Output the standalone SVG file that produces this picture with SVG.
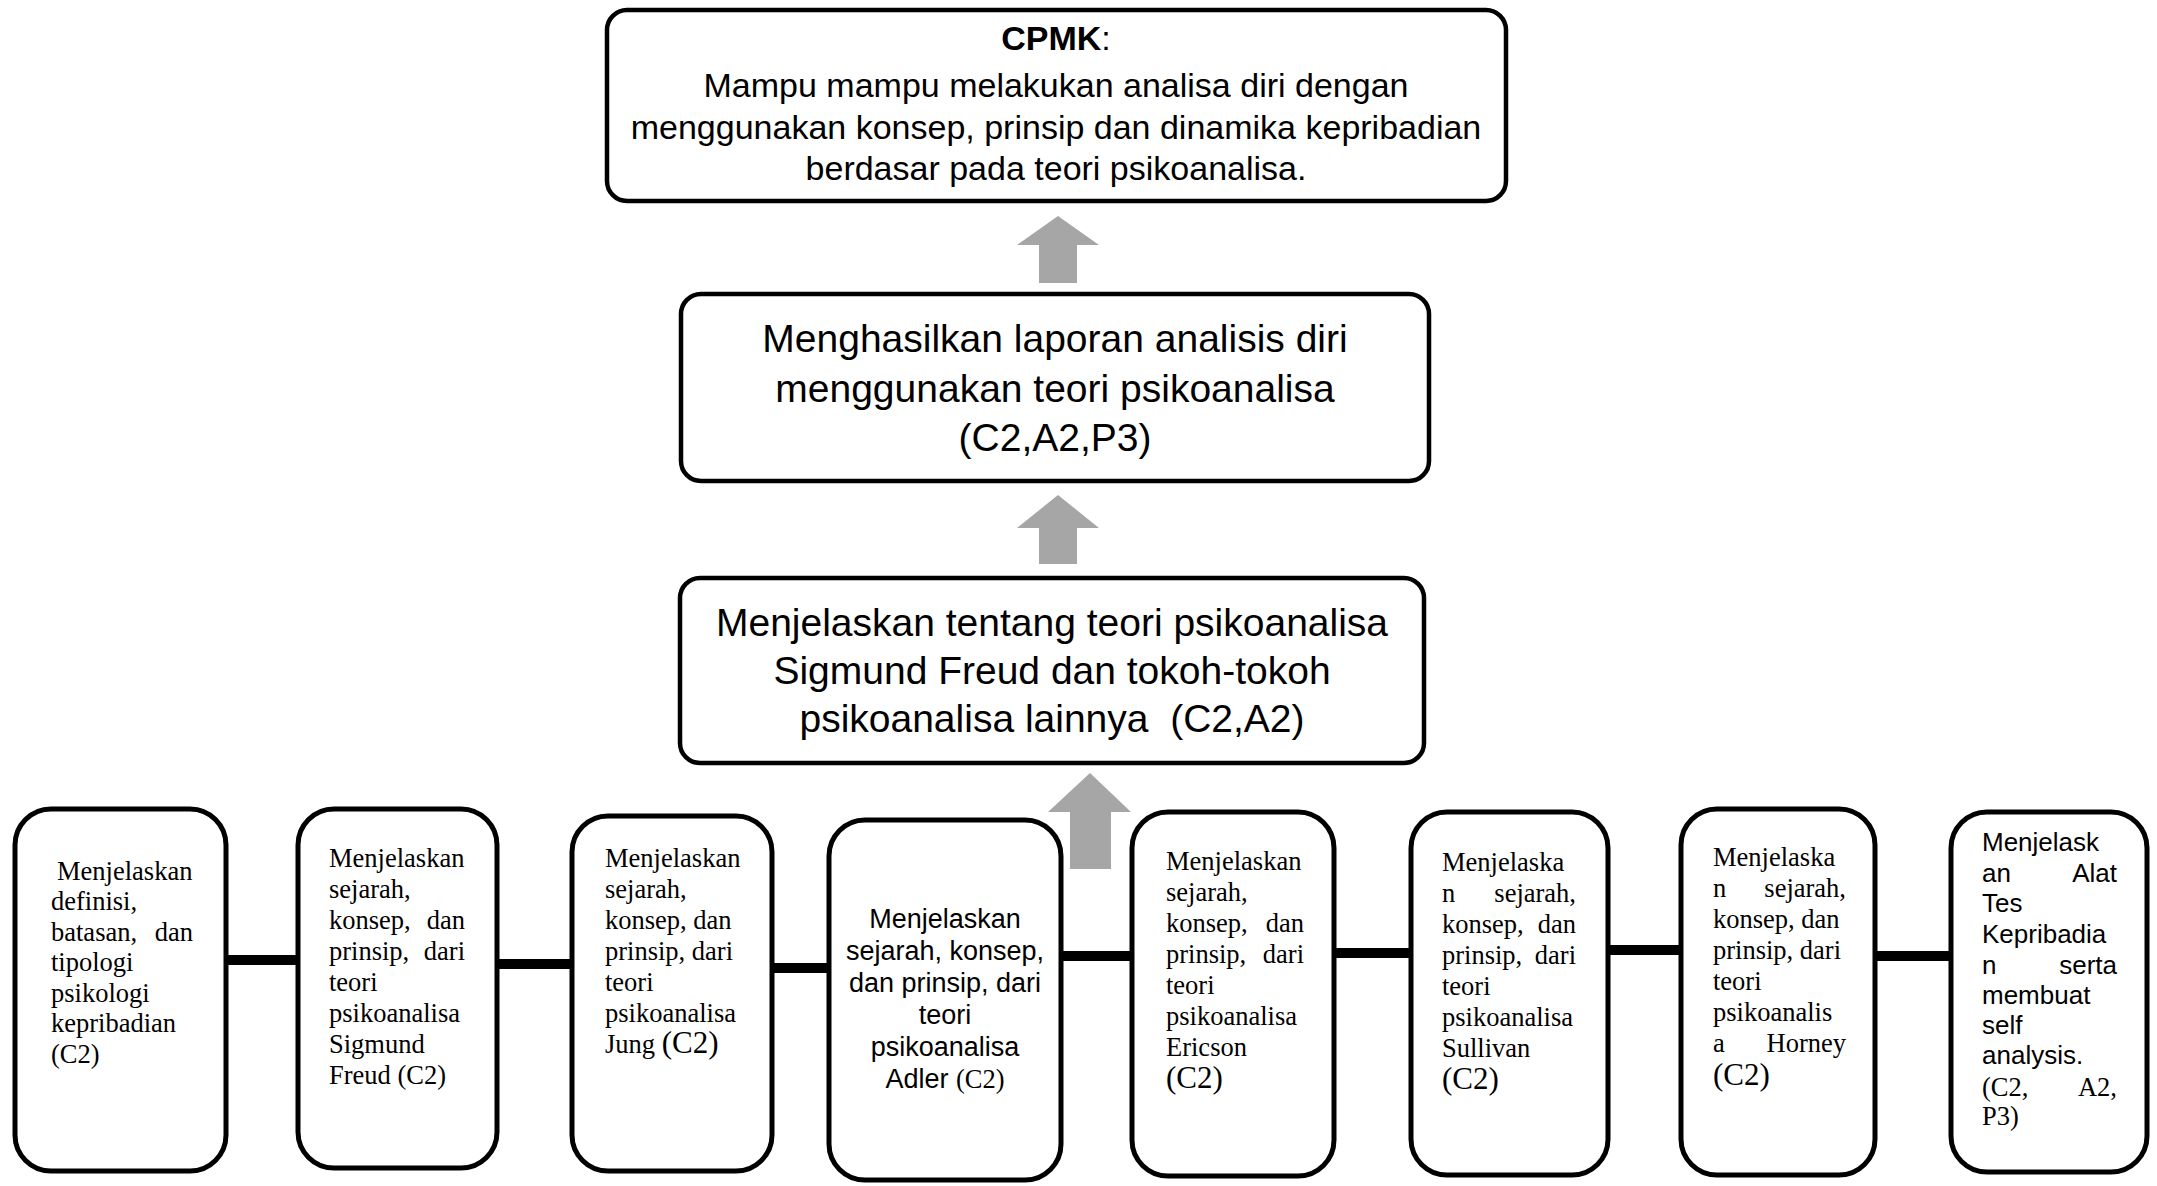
<svg xmlns="http://www.w3.org/2000/svg" width="2157" height="1186" viewBox="0 0 2157 1186">
<defs>
<style>
.top{fill:#fff;stroke:#000;stroke-width:4.5}
.bot{fill:#fff;stroke:#000;stroke-width:5}
.arrow{fill:#a6a6a6}
.conn{stroke:#000;stroke-width:10;fill:none}
.cal{font-family:"Liberation Sans",Arial,sans-serif;fill:#000}
.big{font-size:39px;text-anchor:middle}
.mid{font-size:34px;text-anchor:middle}
.tnr{font-family:"Liberation Serif","Times New Roman",serif;font-size:26.5px;fill:#000}
.tnrL{font-family:"Liberation Serif","Times New Roman",serif;font-size:31px;fill:#000}
.ari{font-family:"Liberation Sans",Arial,sans-serif;font-size:26px;fill:#000}
.e{text-anchor:end}
</style>
</defs>
<rect width="2157" height="1186" fill="#fff"/>

<g id="connectors">
<line class="conn" x1="226" y1="960" x2="298" y2="960"/>
<line class="conn" x1="497" y1="964" x2="572" y2="964"/>
<line class="conn" x1="772" y1="968" x2="829" y2="968"/>
<line class="conn" x1="1061" y1="956" x2="1132" y2="956"/>
<line class="conn" x1="1334" y1="953" x2="1411" y2="953"/>
<line class="conn" x1="1608" y1="950" x2="1681" y2="950"/>
<line class="conn" x1="1875" y1="956" x2="1951" y2="956"/>
<polygon class="arrow" points="1058,216 1099,245 1077,245 1077,283 1039,283 1039,245 1017,245"/>
<polygon class="arrow" points="1058,495 1099,528 1077,528 1077,564 1039,564 1039,528 1017,528"/>
<polygon class="arrow" points="1090,773 1131,812 1111,812 1111,869 1070,869 1070,812 1048,812"/>
</g>

<g id="cpmk">
<rect class="top" x="607" y="10" width="899" height="191" rx="20"/>
<text class="cal mid" x="1056" y="50"><tspan font-weight="bold">CPMK</tspan>:</text>
<text class="cal mid" x="1056" y="97">Mampu mampu melakukan analisa diri dengan</text>
<text class="cal mid" x="1056" y="139">menggunakan konsep, prinsip dan dinamika kepribadian</text>
<text class="cal mid" x="1056" y="180">berdasar pada teori psikoanalisa.</text>
</g>

<g id="laporan">
<rect class="top" x="681" y="294" width="748" height="187" rx="20"/>
<text class="cal big" x="1055" y="352">Menghasilkan laporan analisis diri</text>
<text class="cal big" x="1055" y="402">menggunakan teori psikoanalisa</text>
<text class="cal big" x="1055" y="451">(C2,A2,P3)</text>
</g>

<g id="teori">
<rect class="top" x="680" y="578" width="744" height="185" rx="20"/>
<text class="cal big" x="1052" y="636">Menjelaskan tentang teori psikoanalisa</text>
<text class="cal big" x="1052" y="684">Sigmund Freud dan tokoh-tokoh</text>
<text class="cal big" x="1052" y="732">psikoanalisa lainnya &#160;(C2,A2)</text>
</g>

<g id="n1">
<rect class="bot" x="15" y="809" width="211" height="362" rx="36"/>
<text class="tnr" x="57" y="880">Menjelaskan</text>
<text class="tnr" x="51" y="910">definisi,</text>
<text class="tnr" x="51" y="941">batasan,</text><text class="tnr e" x="193" y="941">dan</text>
<text class="tnr" x="51" y="971">tipologi</text>
<text class="tnr" x="51" y="1002">psikologi</text>
<text class="tnr" x="51" y="1032">kepribadian</text>
<text class="tnr" x="51" y="1063">(C2)</text>
</g>

<g id="n2">
<rect class="bot" x="298" y="809" width="199" height="359" rx="36"/>
<text class="tnr" x="329" y="867">Menjelaskan</text>
<text class="tnr" x="329" y="898">sejarah,</text>
<text class="tnr" x="329" y="929">konsep,</text><text class="tnr e" x="465" y="929">dan</text>
<text class="tnr" x="329" y="960">prinsip,</text><text class="tnr e" x="465" y="960">dari</text>
<text class="tnr" x="329" y="991">teori</text>
<text class="tnr" x="329" y="1022">psikoanalisa</text>
<text class="tnr" x="329" y="1053">Sigmund</text>
<text class="tnr" x="329" y="1084">Freud (C2)</text>
</g>

<g id="n3">
<rect class="bot" x="572" y="816" width="200" height="355" rx="36"/>
<text class="tnr" x="605" y="867">Menjelaskan</text>
<text class="tnr" x="605" y="898">sejarah,</text>
<text class="tnr" x="605" y="929">konsep, dan</text>
<text class="tnr" x="605" y="960">prinsip, dari</text>
<text class="tnr" x="605" y="991">teori</text>
<text class="tnr" x="605" y="1022">psikoanalisa</text>
<text class="tnr" x="605" y="1053">Jung <tspan font-size="31">(C2)</tspan></text>
</g>

<g id="n4">
<rect class="bot" x="829" y="820" width="232" height="360" rx="36"/>
<text class="cal" font-size="27" text-anchor="middle" x="945" y="928">Menjelaskan</text>
<text class="cal" font-size="27" text-anchor="middle" x="945" y="960">sejarah, konsep,</text>
<text class="cal" font-size="27" text-anchor="middle" x="945" y="992">dan prinsip, dari</text>
<text class="cal" font-size="27" text-anchor="middle" x="945" y="1024">teori</text>
<text class="cal" font-size="27" text-anchor="middle" x="945" y="1056">psikoanalisa</text>
<text class="cal" font-size="27" text-anchor="middle" x="945" y="1088">Adler <tspan font-family="Liberation Serif, serif" font-size="26.5">(C2)</tspan></text>
</g>

<g id="n5">
<rect class="bot" x="1132" y="812" width="202" height="364" rx="36"/>
<text class="tnr" x="1166" y="870">Menjelaskan</text>
<text class="tnr" x="1166" y="901">sejarah,</text>
<text class="tnr" x="1166" y="932">konsep,</text><text class="tnr e" x="1304" y="932">dan</text>
<text class="tnr" x="1166" y="963">prinsip,</text><text class="tnr e" x="1304" y="963">dari</text>
<text class="tnr" x="1166" y="994">teori</text>
<text class="tnr" x="1166" y="1025">psikoanalisa</text>
<text class="tnr" x="1166" y="1056">Ericson</text>
<text class="tnrL" x="1166" y="1088">(C2)</text>
</g>

<g id="n6">
<rect class="bot" x="1411" y="812" width="197" height="363" rx="36"/>
<text class="tnr" x="1442" y="871">Menjelaska</text>
<text class="tnr" x="1442" y="902">n</text><text class="tnr e" x="1576" y="902">sejarah,</text>
<text class="tnr" x="1442" y="933">konsep,</text><text class="tnr e" x="1576" y="933">dan</text>
<text class="tnr" x="1442" y="964">prinsip,</text><text class="tnr e" x="1576" y="964">dari</text>
<text class="tnr" x="1442" y="995">teori</text>
<text class="tnr" x="1442" y="1026">psikoanalisa</text>
<text class="tnr" x="1442" y="1057">Sullivan</text>
<text class="tnrL" x="1442" y="1089">(C2)</text>
</g>

<g id="n7">
<rect class="bot" x="1681" y="809" width="194" height="366" rx="36"/>
<text class="tnr" x="1713" y="866">Menjelaska</text>
<text class="tnr" x="1713" y="897">n</text><text class="tnr e" x="1846" y="897">sejarah,</text>
<text class="tnr" x="1713" y="928">konsep, dan</text>
<text class="tnr" x="1713" y="959">prinsip, dari</text>
<text class="tnr" x="1713" y="990">teori</text>
<text class="tnr" x="1713" y="1021">psikoanalis</text>
<text class="tnr" x="1713" y="1052">a</text><text class="tnr e" x="1846" y="1052">Horney</text>
<text class="tnrL" x="1713" y="1085">(C2)</text>
</g>

<g id="n8">
<rect class="bot" x="1951" y="812" width="196" height="360" rx="36"/>
<text class="ari" x="1982" y="851">Menjelask</text>
<text class="ari" x="1982" y="882">an</text><text class="ari e" x="2117" y="882">Alat</text>
<text class="ari" x="1982" y="912">Tes</text>
<text class="ari" x="1982" y="943">Kepribadia</text>
<text class="ari" x="1982" y="974">n</text><text class="ari e" x="2117" y="974">serta</text>
<text class="ari" x="1982" y="1004">membuat</text>
<text class="ari" x="1982" y="1034">self</text>
<text class="ari" x="1982" y="1064">analysis.</text>
<text class="tnr" font-size="22" x="1982" y="1096">(C2,</text><text class="tnr e" font-size="22" x="2117" y="1096">A2,</text>
<text class="tnr" font-size="22" x="1982" y="1125">P3)</text>
</g>
</svg>
